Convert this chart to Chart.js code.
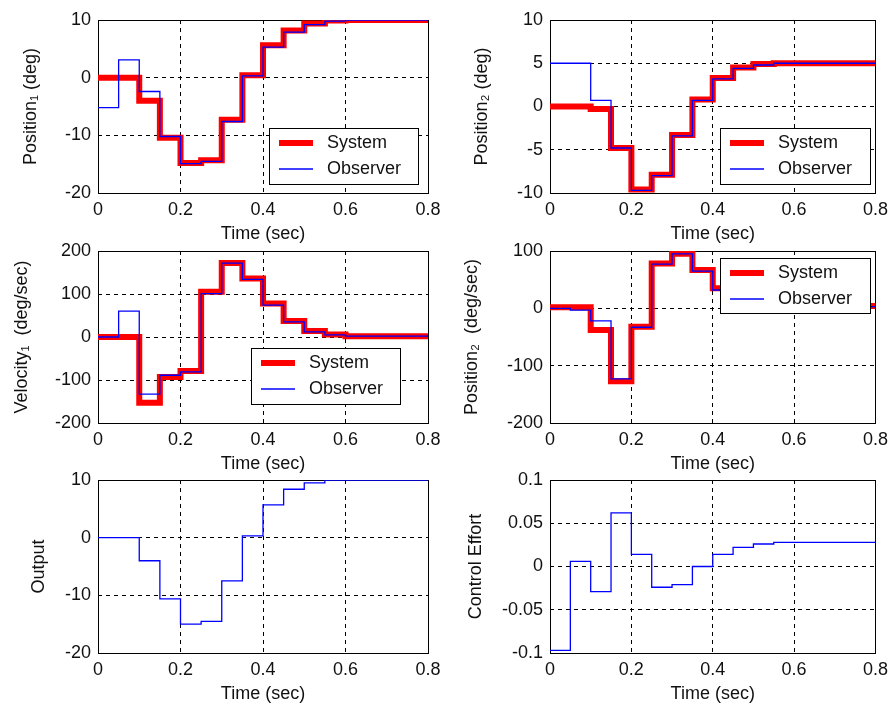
<!DOCTYPE html>
<html>
<head>
<meta charset="utf-8">
<script src="https://cdn.jsdelivr.net/npm/chart.js@4"></script>
<style>
  html, body { margin: 0; padding: 0; background: #fff; }
  #wrap { position: relative; width: 894px; height: 708px; overflow: hidden; background: #fff; }
  #wrap canvas { position: absolute; }
</style>
</head>
<body>
<div id="wrap"></div>
<script>
// sample instants (sec), zero-order hold every 0.05 s
const time = [0, 0.05, 0.1, 0.15, 0.2, 0.25, 0.3, 0.35, 0.4, 0.45, 0.5, 0.55, 0.6, 0.65, 0.7, 0.75, 0.8];
const timeTicks = [0, 0.2, 0.4, 0.6, 0.8];

const pos1System   = [0, 0, -4, -10.4, -14.8, -14.3, -7.3, 0.4, 5.6, 8.2, 9.4, 9.9, 10, 10, 10, 10, 10];
const pos1Observer = [-5.2, 3.1, -2.4, -10.2, -14.9, -14.5, -7.6, 0.3, 5.3, 7.9, 9.2, 9.8, 10, 10, 10, 10, 10];
const pos1Ticks = [-20, -10, 0, 10];

const pos2System   = [0, 0, -0.3, -4.8, -9.6, -7.9, -3.3, 0.8, 3.3, 4.5, 4.9, 5.0, 5.0, 5.0, 5.0, 5.0, 5.0];
const pos2Observer = [5, 5, 0.7, -4.8, -9.7, -8.0, -3.4, 0.7, 3.2, 4.4, 4.8, 5.0, 5.0, 5.0, 5.0, 5.0, 5.0];
const pos2Ticks = [-10, -5, 0, 5, 10];

const vel1System   = [0, 0, -153, -93, -79, 105, 172, 136, 78, 37, 14, 6, 2, 2, 2, 2, 2];
const vel1Observer = [0, 60, -133, -89, -81, 101, 172, 134, 74, 35, 12, 5, 2, 2, 2, 2, 2];
const vel1Ticks = [-200, -100, 0, 100, 200];

const vel2System   = [2, 2, -38, -127, -32, 78, 95, 67, 35, 18, 10, 6, 4, 4, 4, 4, 4];
const vel2Observer = [0, -3, -22, -123, -33, 77, 95, 65, 32, 16, 9, 5, 3, 3, 3, 3, 3];
const vel2Ticks = [-200, -100, 0, 100];

const outputValues = [0, 0, -4, -10.6, -15, -14.5, -7.5, 0.3, 5.7, 8.4, 9.5, 10, 10, 10, 10, 10, 10];
const outputTicks = [-20, -10, 0, 10];

const effortValues = [-0.097, 0.006, -0.029, 0.062, 0.014, -0.024, -0.021, 0, 0.014, 0.022, 0.026, 0.028, 0.028, 0.028, 0.028, 0.028, 0.028];
const effortTicks = [-0.1, -0.05, 0, 0.05, 0.1];

const FONT = '"Liberation Sans", Arial, Helvetica, sans-serif';
const TXT = '#111';
const RED = '#ff0000';
const BLUE = '#0000ff';
const COL_W = 447;
const PAD_T = 25;   // canvas space above plot box
const X_H = 55;     // canvas space below plot box

// white legend box drawn inside the plot, like matlab's legend
const boxLegend = {
  id: 'boxLegend',
  afterDatasetsDraw(chart, args, opts) {
    if (!opts || !opts.box) return;
    const ca = chart.chartArea;
    const ctx = chart.ctx;
    const [bx, by, bw, bh] = opts.box;
    const x = Math.round(ca.left + bx), y = Math.round(ca.top + by);
    ctx.save();
    ctx.fillStyle = '#fff';
    ctx.fillRect(x, y, bw, bh);
    ctx.strokeStyle = '#000';
    ctx.lineWidth = 1;
    ctx.strokeRect(x + 0.5, y + 0.5, bw, bh);
    chart.data.datasets.forEach((ds, i) => {
      const ly = y + 15 + i * 26;
      ctx.strokeStyle = ds.borderColor;
      ctx.lineWidth = ds.borderWidth;
      ctx.beginPath();
      ctx.moveTo(x + 10, ly);
      ctx.lineTo(x + 44, ly);
      ctx.stroke();
      ctx.fillStyle = TXT;
      ctx.font = '18px ' + FONT;
      ctx.textBaseline = 'middle';
      ctx.fillText(ds.label, x + 58, ly);
    });
    ctx.restore();
  }
};

// solid box round the plot area
const axesBox = {
  id: 'axesBox',
  beforeDatasetsDraw(chart) {
    const ca = chart.chartArea;
    const ctx = chart.ctx;
    ctx.save();
    ctx.strokeStyle = '#000';
    ctx.lineWidth = 1;
    ctx.strokeRect(Math.round(ca.left) + 0.5, Math.round(ca.top) + 0.5,
      Math.round(ca.right - ca.left), Math.round(ca.bottom - ca.top));
    ctx.restore();
  }
};

function gridColor(c) {
  const n = c.scale.ticks.length;
  return (c.index === 0 || c.index === n - 1) ? 'rgba(0,0,0,0)' : '#000';
}

function makePanel(p) {
  const wrap = document.getElementById('wrap');
  const colLeft = p.area[0] < COL_W ? 0 : COL_W;
  const top = p.area[1] - PAD_T;
  const h = p.area[3] - p.area[1] + PAD_T + X_H;
  const cv = document.createElement('canvas');
  cv.width = COL_W;
  cv.height = h;
  cv.style.left = colLeft + 'px';
  cv.style.top = top + 'px';
  wrap.appendChild(cv);

  new Chart(cv, {
    type: 'line',
    data: {
      datasets: p.series.map(s => ({
        label: s.label,
        data: time.map((t, i) => ({ x: t, y: s.values[i] })),
        borderColor: s.color,
        borderWidth: s.width,
        order: s.order,
        stepped: true,
        pointRadius: 0,
        fill: false,
        borderJoinStyle: 'miter'
      }))
    },
    options: {
      responsive: false,
      animation: false,
      devicePixelRatio: 1,
      layout: { padding: { left: 0, top: PAD_T, right: colLeft + COL_W - p.area[2], bottom: 0 } },
      plugins: {
        legend: { display: false },
        tooltip: { enabled: false },
        boxLegend: p.legend ? { box: p.legend } : false
      },
      scales: {
        x: {
          type: 'linear',
          min: 0,
          max: 0.8,
          afterBuildTicks: s => { s.ticks = timeTicks.map(v => ({ value: v })); },
          afterFit: s => { s.height = X_H; },
          ticks: { color: TXT, font: { family: FONT, size: 18 }, padding: 6, maxRotation: 0,
                   callback: v => String(v) },
          grid: { color: gridColor, lineWidth: 1, drawTicks: false },
          border: { display: false, dash: [4, 4] },
          title: { display: true, text: 'Time (sec)', color: TXT,
                   font: { family: FONT, size: 18 }, padding: { top: 0, bottom: 3 } }
        },
        y: {
          min: p.yTicks[0],
          max: p.yTicks[p.yTicks.length - 1],
          afterBuildTicks: s => { s.ticks = p.yTicks.map(v => ({ value: v })); },
          afterFit: s => { s.width = p.area[0] - colLeft; },
          ticks: { color: TXT, font: { family: FONT, size: 18 }, padding: 7,
                   callback: v => String(v) },
          grid: { color: gridColor, lineWidth: 1, drawTicks: false },
          border: { display: false, dash: [4, 4] },
          title: { display: true, text: p.yTitle, color: TXT,
                   font: { family: FONT, size: 18 }, padding: { top: p.titleX - 10.8, bottom: 0 } }
        }
      }
    },
    plugins: [axesBox, boxLegend]
  });
}

function pair(sys, obs) {
  return [
    { label: 'System', values: sys, color: RED, width: 6, order: 1 },
    { label: 'Observer', values: obs, color: BLUE, width: 1.3, order: 0 }
  ];
}

makePanel({ area: [98, 20, 428, 193], yTicks: pos1Ticks, yTitle: 'Position\u2081 (deg)', titleX: 31,
            series: pair(pos1System, pos1Observer), legend: [171, 108, 149, 56] });
makePanel({ area: [550, 20, 879, 193], yTicks: pos2Ticks, yTitle: 'Position\u2082 (deg)', titleX: 35,
            series: pair(pos2System, pos2Observer), legend: [170, 108, 150, 56] });
makePanel({ area: [98, 251, 428, 423], yTicks: vel1Ticks, yTitle: 'Velocity\u2081  (deg/sec)', titleX: 22,
            series: pair(vel1System, vel1Observer), legend: [153, 97, 149, 56] });
makePanel({ area: [550, 251, 879, 423], yTicks: vel2Ticks, yTitle: 'Position\u2082  (deg/sec)', titleX: 25,
            series: pair(vel2System, vel2Observer), legend: [170, 7, 150, 55] });
makePanel({ area: [98, 480, 428, 653], yTicks: outputTicks, yTitle: 'Output', titleX: 39,
            series: [{ label: 'Output', values: outputValues, color: BLUE, width: 1.3, order: 0 }], legend: null });
makePanel({ area: [550, 480, 879, 653], yTicks: effortTicks, yTitle: 'Control Effort', titleX: 29,
            series: [{ label: 'Control Effort', values: effortValues, color: BLUE, width: 1.3, order: 0 }], legend: null });
</script>
</body>
</html>
